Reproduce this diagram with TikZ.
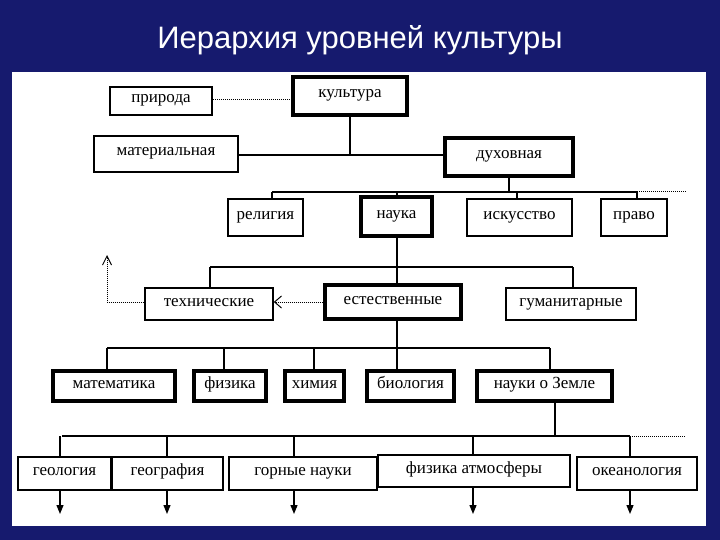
\documentclass[tikz,border=0pt]{standalone}
\usepackage{fontspec}
\setmainfont{Liberation Serif}
\newfontfamily\titlefont{Liberation Sans}
\usetikzlibrary{arrows.meta}
\definecolor{navy}{RGB}{22,26,110}
\begin{document}
\begin{tikzpicture}[x=1pt,y=-1pt,
  bx/.style={draw,line width=1.5pt,fill=white,font=\fontsize{17}{18}\selectfont,inner sep=0pt,text height=7pt,text depth=3pt},
  tk/.style={draw,line width=3.5pt,fill=white,font=\fontsize{17}{18}\selectfont,inner sep=0pt,text height=7pt,text depth=3pt},
  ln/.style={line width=2.2pt},
  dt/.style={densely dotted,line width=1pt}]
\useasboundingbox (0,0) rectangle (720,540);
\fill[navy] (0,0) rectangle (720,540);
\fill[white] (12,72) rectangle (706,526);
\node[white,font=\titlefont\fontsize{31}{33}\selectfont] (title) at (360,40) {Иерархия уровней культуры};
\newcommand\bxat[6]{\node[#1,minimum width=#4-#2,minimum height=#5-#3] (#6) at ({(#2+#4)/2},{(#3+#5)/2})}
\bxat{bx}{110}{87}{212}{115}{pr} {природа};
\bxat{tk}{293}{77}{407}{115}{ku} {культура};
\bxat{bx}{94}{136}{238}{172}{ma} {материальная};
\bxat{tk}{445}{138}{573}{176}{du} {духовная};
\bxat{bx}{228}{199}{303}{236}{re} {религия};
\bxat{tk}{361}{197}{432}{236}{na} {наука};
\bxat{bx}{467}{199}{572}{236}{is} {искусство};
\bxat{bx}{601}{199}{667}{236}{pv} {право};
\bxat{bx}{145}{288}{273}{320}{te} {технические};
\bxat{tk}{325}{285}{461}{319}{es} {естественные};
\bxat{bx}{506}{288}{636}{320}{gu} {гуманитарные};
\bxat{tk}{53}{371}{175}{401}{m1} {математика};
\bxat{tk}{194}{371}{266}{401}{m2} {физика};
\bxat{tk}{285}{371}{344}{401}{m3} {химия};
\bxat{tk}{367}{371}{454}{401}{m4} {биология};
\bxat{tk}{477}{371}{612}{401}{m5} {науки о Земле};
\bxat{bx}{18}{457}{111}{490}{g1} {геология};
\bxat{bx}{112}{457}{223}{490}{g2} {география};
\bxat{bx}{229}{457}{377}{490}{g3} {горные науки};
\bxat{bx}{378}{455}{570}{487}{g4} {физика атмосферы};
\bxat{bx}{577}{457}{697}{490}{g5} {океанология};
% level 1
\draw[dt] (pr.east |- 0,100) -- (ku.west |- 0,100);
\draw[ln] (ku.south -| 350,0) -- (350,155);
\draw[ln] (ma.east |- 0,155) -- (du.west |- 0,155);
% level 2
\draw[ln] (du.south -| 509,0) -- (509,192);
\draw[ln] (272,192) -- (637,192);
\draw[dt] (637,192) -- (686,192);
\draw[ln] (272,192) -- (re.north -| 272,0);
\draw[ln] (397,192) -- (na.north -| 397,0);
\draw[ln] (517,192) -- (is.north -| 517,0);
\draw[ln] (637,192) -- (pv.north -| 637,0);
% level 3
\draw[ln] (na.south -| 397,0) -- (es.north -| 397,0);
\draw[ln] (210,267) -- (573,267);
\draw[ln] (210,267) -- (te.north -| 210,0);
\draw[ln] (573,267) -- (gu.north -| 573,0);
\draw[dt,-{Straight Barb[length=7pt,width=12pt,line width=1pt]}] (es.west |- 0,302) -- (te.east |- 0,302);
\coordinate (c1) at (107,302);
\coordinate (c2) at (107,255);
\draw[dt,-{Straight Barb[length=9pt,width=9pt,line width=1pt]}] (te.west |- 0,302) -- (c1) -- (c2);
% level 4
\draw[ln] (es.south -| 397,0) -- (397,348);
\draw[ln] (107,348) -- (550,348);
\draw[ln] (107,348) -- (m1.north -| 107,0);
\draw[ln] (224,348) -- (m2.north -| 224,0);
\draw[ln] (314,348) -- (m3.north -| 314,0);
\draw[ln] (397,348) -- (m4.north -| 397,0);
\draw[ln] (550,348) -- (m5.north -| 550,0);
% level 5
\draw[ln] (m5.south -| 555,0) -- (555,436);
\draw[ln] (62,436) -- (630,436);
\draw[dt] (630,436) -- (686,436);
\foreach \x/\n in {60/g1,167/g2,294/g3,473/g4,630/g5}{
  \draw[ln] (\x,436) -- (\n.north -| \x,0);
  \coordinate (e\n) at (\x,514);
  \draw[line width=1.2pt,-{Triangle[length=9pt,width=7pt]}] (\n.south -| \x,0) -- (e\n);
}
\end{tikzpicture}
\end{document}
